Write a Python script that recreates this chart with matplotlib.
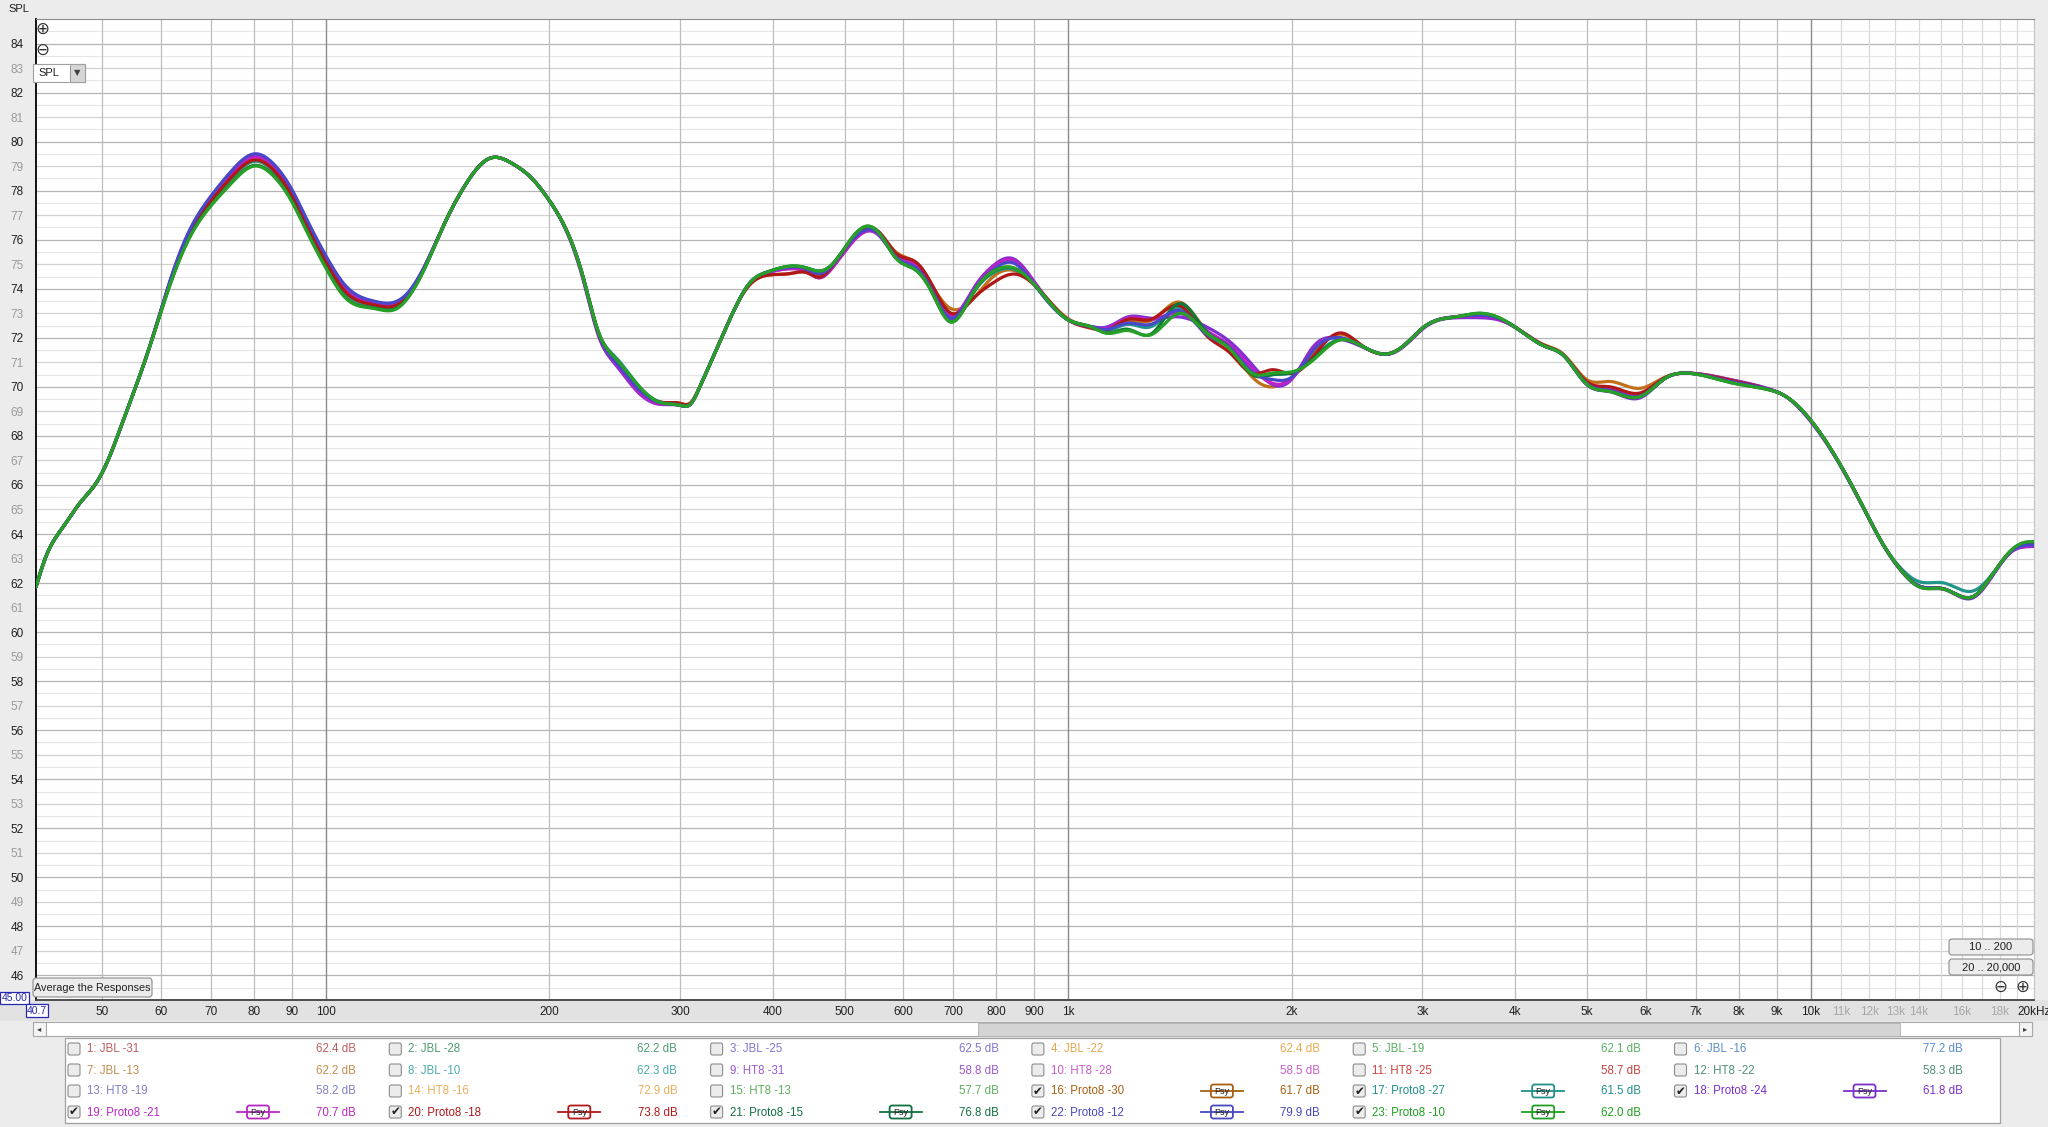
import numpy as np
import matplotlib
matplotlib.use("Agg")
import matplotlib.pyplot as plt
from matplotlib.patches import Rectangle, FancyBboxPatch

plt.rcParams['font.family'] = ['Liberation Sans', 'DejaVu Sans']

# ---------------- data ----------------
freq = [40.7, 42.0, 44.3, 46.6, 49.1, 51.2, 53.3, 55.6, 57.7, 61.3,
        65.2, 70.1, 74.6, 80, 85.3, 90, 94.2, 100, 106.5, 116,
        124.8, 129.5, 136, 144.7, 153.9, 166.6, 178, 189.5, 200, 211.6,
        222, 233.5, 245, 265, 280, 300, 310, 319, 339, 357,
        372, 393, 422, 444, 463, 483, 503, 535, 557, 586,
        624, 656, 694, 745, 793, 844, 897, 1000, 1071, 1130,
        1202, 1292, 1415, 1535, 1650, 1770, 1883, 2012, 2140, 2328,
        2470, 2720, 2870, 3020, 3355, 3580, 3830, 4060, 4390, 4640,
        5000, 5375, 5890, 6370, 6830, 7790, 8790, 9190, 10000, 10940,
        11830, 12500, 13240, 14000, 15140, 16560, 17500, 18700, 19550, 20170]

p30 = [61.85, 63.1, 64.3, 65.25, 66.1, 67.2, 68.6, 70.1, 71.5, 73.99,
       76.07, 77.56, 78.5, 79.2, 78.75, 77.75, 76.55, 75.05, 73.8, 73.32,
       73.32, 73.78, 74.89, 76.7, 78.2, 79.33, 79.12, 78.5, 77.6, 76.3,
       74.5, 72.1, 71.1, 69.92, 69.4, 69.33, 69.35, 70.0, 71.8, 73.3,
       74.15, 74.55, 74.62, 74.68, 74.58, 75.05, 75.75, 76.45, 76.25, 75.5,
       75.05, 74.12, 73.2, 73.6, 74.5, 74.75, 74.23, 72.78, 72.46, 72.38,
       72.7, 72.7, 73.45, 72.3, 71.55, 70.4, 70.0, 70.45, 71.35, 72.15,
       71.75, 71.37, 71.84, 72.46, 72.87, 72.95, 72.75, 72.3, 71.7, 71.35,
       70.29, 70.22, 69.94, 70.4, 70.56, 70.3, 69.9, 69.67, 68.65, 66.88,
       64.98, 63.62, 62.53, 61.88, 61.76, 61.45, 62.26, 63.35, 63.6, 63.6]

p27 = [61.85, 63.1, 64.3, 65.25, 66.1, 67.2, 68.6, 70.1, 71.5, 73.99,
       76.07, 77.56, 78.5, 79.2, 78.75, 77.75, 76.55, 75.05, 73.8, 73.32,
       73.32, 73.78, 74.89, 76.7, 78.2, 79.33, 79.12, 78.5, 77.6, 76.3,
       74.5, 72.15, 71.25, 69.98, 69.42, 69.25, 69.3, 70.0, 71.8, 73.3,
       74.22, 74.68, 74.92, 74.85, 74.72, 75.05, 75.75, 76.5, 76.25, 75.28,
       74.8, 73.88, 72.72, 73.82, 74.65, 74.8, 74.23, 72.73, 72.46, 72.3,
       72.55, 72.45, 73.2, 72.2, 71.6, 70.6, 70.5, 70.6, 71.2, 71.95,
       71.71, 71.37, 71.84, 72.46, 72.87, 72.98, 72.75, 72.3, 71.65, 71.3,
       70.1, 69.82, 69.6, 70.35, 70.56, 70.22, 69.9, 69.67, 68.65, 66.88,
       64.98, 63.62, 62.6, 62.06, 62.0, 61.68, 62.3, 63.35, 63.65, 63.65]

p24 = [61.85, 63.1, 64.3, 65.25, 66.1, 67.2, 68.6, 70.1, 71.5, 74.06,
       76.22, 77.76, 78.75, 79.45, 79.0, 78.0, 76.8, 75.3, 74.05, 73.47,
       73.47, 73.88, 74.94, 76.7, 78.2, 79.33, 79.12, 78.5, 77.6, 76.25,
       74.4, 72.0, 70.95, 69.7, 69.3, 69.25, 69.3, 70.0, 71.8, 73.3,
       74.2, 74.65, 74.82, 74.7, 74.45, 74.92, 75.62, 76.35, 76.15, 75.3,
       74.85, 73.95, 72.88, 74.0, 74.95, 75.22, 74.35, 72.73, 72.46, 72.45,
       72.85, 72.8, 72.85, 72.45, 71.85, 70.9, 70.1, 70.4, 71.65, 71.95,
       71.68, 71.35, 71.8, 72.42, 72.82, 72.82, 72.7, 72.3, 71.65, 71.3,
       70.08, 69.8, 69.55, 70.35, 70.56, 70.3, 69.92, 69.67, 68.6, 66.85,
       64.95, 63.6, 62.5, 61.85, 61.74, 61.4, 62.2, 63.3, 63.48, 63.5]

p21 = [61.85, 63.1, 64.3, 65.25, 66.1, 67.2, 68.6, 70.1, 71.5, 74.04,
       76.17, 77.7, 78.67, 79.37, 78.92, 77.92, 76.72, 75.22, 73.97, 73.42,
       73.42, 73.85, 74.92, 76.7, 78.2, 79.33, 79.12, 78.5, 77.6, 76.28,
       74.45, 72.05, 71.0, 69.75, 69.32, 69.25, 69.3, 70.0, 71.8, 73.3,
       74.2, 74.65, 74.82, 74.7, 74.45, 74.92, 75.62, 76.35, 76.2, 75.35,
       74.95, 74.0, 72.92, 73.95, 74.9, 75.15, 74.3, 72.73, 72.46, 72.4,
       72.8, 72.75, 73.0, 72.3, 71.7, 70.75, 70.15, 70.42, 71.55, 72.0,
       71.7, 71.36, 71.82, 72.44, 72.85, 72.88, 72.72, 72.3, 71.65, 71.3,
       70.15, 69.9, 69.65, 70.35, 70.56, 70.28, 69.9, 69.67, 68.62, 66.86,
       64.96, 63.6, 62.52, 61.88, 61.76, 61.45, 62.22, 63.32, 63.5, 63.52]

p18 = [61.85, 63.1, 64.3, 65.25, 66.1, 67.2, 68.6, 70.1, 71.5, 74.0,
       76.1, 77.6, 78.55, 79.25, 78.8, 77.8, 76.6, 75.1, 73.85, 73.35,
       73.35, 73.8, 74.9, 76.7, 78.2, 79.33, 79.12, 78.5, 77.6, 76.3,
       74.5, 72.1, 71.1, 69.9, 69.4, 69.33, 69.35, 70.0, 71.8, 73.3,
       74.15, 74.55, 74.62, 74.66, 74.48, 75.0, 75.72, 76.45, 76.3, 75.45,
       75.08, 74.15, 73.02, 73.6, 74.25, 74.6, 74.2, 72.73, 72.4, 72.33,
       72.75, 72.75, 73.3, 72.1, 71.4, 70.55, 70.7, 70.55, 71.25, 72.2,
       71.75, 71.38, 71.84, 72.46, 72.87, 72.95, 72.75, 72.32, 71.68, 71.32,
       70.2, 70.0, 69.75, 70.38, 70.56, 70.27, 69.9, 69.67, 68.65, 66.88,
       64.98, 63.62, 62.53, 61.88, 61.76, 61.45, 62.26, 63.35, 63.6, 63.6]

p15 = [61.85, 63.1, 64.3, 65.25, 66.1, 67.2, 68.6, 70.1, 71.5, 73.93,
       75.97, 77.42, 78.33, 79.03, 78.58, 77.58, 76.38, 74.88, 73.63, 73.22,
       73.22, 73.71, 74.86, 76.7, 78.2, 79.33, 79.12, 78.5, 77.6, 76.3,
       74.5, 72.15, 71.2, 69.95, 69.4, 69.25, 69.3, 70.0, 71.8, 73.3,
       74.22, 74.68, 74.92, 74.85, 74.72, 75.05, 75.78, 76.55, 76.25, 75.25,
       74.75, 73.83, 72.65, 73.85, 74.7, 74.85, 74.23, 72.73, 72.46, 72.2,
       72.35, 72.15, 73.4, 72.25, 71.6, 70.5, 70.5, 70.6, 71.15, 71.92,
       71.71, 71.37, 71.84, 72.46, 72.87, 73.0, 72.78, 72.3, 71.65, 71.3,
       70.1, 69.82, 69.6, 70.35, 70.56, 70.18, 69.88, 69.67, 68.65, 66.88,
       64.98, 63.62, 62.53, 61.88, 61.76, 61.45, 62.26, 63.38, 63.66, 63.66]

p12 = [61.85, 63.1, 64.3, 65.25, 66.1, 67.2, 68.6, 70.1, 71.5, 74.08,
       76.25, 77.8, 78.8, 79.5, 79.05, 78.05, 76.85, 75.35, 74.1, 73.5,
       73.5, 73.9, 74.95, 76.7, 78.2, 79.33, 79.12, 78.5, 77.6, 76.3,
       74.5, 72.1, 71.05, 69.85, 69.38, 69.25, 69.3, 70.0, 71.8, 73.3,
       74.22, 74.68, 74.88, 74.8, 74.62, 75.02, 75.72, 76.4, 76.22, 75.3,
       74.85, 73.92, 72.8, 73.9, 74.78, 75.05, 74.23, 72.73, 72.46, 72.35,
       72.6, 72.55, 73.1, 72.15, 71.6, 70.6, 70.3, 70.45, 71.5, 72.0,
       71.71, 71.37, 71.84, 72.46, 72.87, 72.92, 72.75, 72.3, 71.65, 71.3,
       70.12, 69.85, 69.62, 70.35, 70.56, 70.22, 69.9, 69.67, 68.63, 66.87,
       64.97, 63.62, 62.53, 61.88, 61.76, 61.45, 62.24, 63.33, 63.55, 63.55]

p10 = [61.85, 63.1, 64.3, 65.25, 66.1, 67.2, 68.6, 70.1, 71.5, 73.93,
       75.95, 77.4, 78.3, 79.0, 78.55, 77.55, 76.35, 74.85, 73.6, 73.2,
       73.2, 73.7, 74.85, 76.7, 78.2, 79.33, 79.12, 78.5, 77.6, 76.3,
       74.5, 72.15, 71.2, 69.98, 69.4, 69.25, 69.3, 70.0, 71.8, 73.3,
       74.22, 74.68, 74.92, 74.85, 74.72, 75.05, 75.78, 76.55, 76.25, 75.25,
       74.75, 73.83, 72.65, 73.85, 74.72, 74.85, 74.23, 72.73, 72.46, 72.18,
       72.3, 72.12, 73.0, 72.2, 71.55, 70.55, 70.56, 70.63, 71.1, 71.92,
       71.71, 71.37, 71.84, 72.46, 72.87, 73.0, 72.78, 72.3, 71.65, 71.3,
       70.1, 69.81, 69.6, 70.35, 70.56, 70.18, 69.88, 69.67, 68.65, 66.88,
       64.98, 63.62, 62.53, 61.85, 61.75, 61.45, 62.26, 63.38, 63.68, 63.68]

series_data = [p30, p27, p24, p21, p18, p15, p12, p10]
series_colors = ['#c07018', '#20968a', '#8030d0', '#c020c8',
                 '#b01818', '#107838', '#4848c8', '#28a028']

xtick_vals = [50, 60, 70, 80, 90, 100, 200, 300, 400, 500, 600, 700, 800, 900,
              1000, 2000, 3000, 4000, 5000, 6000, 7000, 8000, 9000, 10000,
              11000, 12000, 13000, 14000, 16000, 18000, 20000]
xtick_labels = ['50', '60', '70', '80', '90', '100', '200', '300', '400', '500',
                '600', '700', '800', '900', '1k', '2k', '3k', '4k', '5k', '6k',
                '7k', '8k', '9k', '10k', '11k', '12k', '13k', '14k', '16k',
                '18k', '20kHz']

legend_labels = ['1: JBL -31', '2: JBL -28', '3: JBL -25', '4: JBL -22', '5: JBL -19', '6: JBL -16',
                 '7: JBL -13', '8: JBL -10', '9: HT8 -31', '10: HT8 -28', '11: HT8 -25', '12: HT8 -22',
                 '13: HT8 -19', '14: HT8 -16', '15: HT8 -13', '16: Proto8 -30', '17: Proto8 -27',
                 '18: Proto8 -24', '19: Proto8 -21', '20: Proto8 -18', '21: Proto8 -15',
                 '22: Proto8 -12', '23: Proto8 -10']
legend_values = ['62.4 dB', '62.2 dB', '62.5 dB', '62.4 dB', '62.1 dB', '77.2 dB',
                 '62.2 dB', '62.3 dB', '58.8 dB', '58.5 dB', '58.7 dB', '58.3 dB',
                 '58.2 dB', '72.9 dB', '57.7 dB', '61.7 dB', '61.5 dB', '61.8 dB',
                 '70.7 dB', '73.8 dB', '76.8 dB', '79.9 dB', '62.0 dB']
legend_colors = ['#b04040', '#2e8b57', '#6a5acd', '#e09a30', '#3aa04a', '#3a7ac0',
                 '#b87830', '#2a9a9a', '#8a3ac8', '#c040c0', '#c02020', '#307a60',
                 '#6a6ab8', '#e8a040', '#40a040', '#a86010', '#20908a', '#7a30c8',
                 '#b828c0', '#b01818', '#107040', '#4848c0', '#20a020']
legend_checked = [False] * 15 + [True] * 8


# ---------------- helpers ----------------
def nat_spline(x, y, xs):
    x = np.asarray(x, float)
    y = np.asarray(y, float)
    n = len(x)
    h = np.diff(x)
    A = np.zeros((n, n))
    r = np.zeros(n)
    A[0, 0] = A[-1, -1] = 1.0
    for i in range(1, n - 1):
        A[i, i - 1] = h[i - 1]
        A[i, i] = 2 * (h[i - 1] + h[i])
        A[i, i + 1] = h[i]
        r[i] = 3 * ((y[i + 1] - y[i]) / h[i] - (y[i] - y[i - 1]) / h[i - 1])
    c = np.linalg.solve(A, r)
    b = (y[1:] - y[:-1]) / h - h * (2 * c[:-1] + c[1:]) / 3
    d = (c[1:] - c[:-1]) / (3 * h)
    k = np.clip(np.searchsorted(x, xs) - 1, 0, n - 2)
    dx = xs - x[k]
    return y[k] + b[k] * dx + c[k] * dx ** 2 + d[k] * dx ** 3


W, H = 2048, 1127
fig = plt.figure(figsize=(W / 100, H / 100), dpi=100)
fig.patch.set_facecolor('#ececec')

# ---------------- main plot ----------------
L, R, T, B = 36, 2034, 19, 1000
ax = fig.add_axes([L / W, (H - B) / H, (R - L) / W, (B - T) / H], zorder=2)
ax.set_facecolor('white')
ax.set_xscale('log')
ax.set_xlim(40.7, 20000)
ax.set_ylim(45, 85)

# horizontal grid
for v in np.arange(45.5, 85, 0.5):
    if abs(v - round(v)) > 0.01:
        col, lw = '#e6e6e6', 0.8
    elif int(round(v)) % 2 == 0:
        col, lw = '#b4b4b4', 0.9
    else:
        col, lw = '#d2d2d2', 0.9
    ax.axhline(v, color=col, lw=lw, zorder=0)
# vertical grid
for f in list(range(50, 100, 10)) + list(range(200, 1000, 100)) + list(range(2000, 10000, 1000)):
    ax.axvline(f, color='#bdbdbd', lw=0.9, zorder=0)
for f in range(11000, 20001, 1000):
    ax.axvline(f, color='#dadada', lw=0.9, zorder=0)
for f in [100, 1000, 10000]:
    ax.axvline(f, color='#8a8a8a', lw=1.0, zorder=0)

lf = np.log10(freq)
xs = np.linspace(lf[0], lf[-1], 3000)
for vals, colr in zip(series_data, series_colors):
    ys = nat_spline(lf, vals, xs)
    ax.plot(10 ** xs, ys, color=colr, lw=2.3, solid_capstyle='round', zorder=3)

ax.set_xticks(xtick_vals)
ax.set_xticklabels(xtick_labels)
ax.xaxis.set_minor_locator(matplotlib.ticker.NullLocator())
ax.set_yticks(list(range(46, 85)))
ax.set_yticklabels([str(v) for v in range(46, 85)])
ax.tick_params(axis='x', length=0, pad=4, labelsize=8.5, colors='#202020')
ax.tick_params(axis='y', length=0, pad=9, labelsize=8.5)
for lab, val in zip(ax.get_yticklabels(), range(46, 85)):
    lab.set_color('#202020' if val % 2 == 0 else '#9a9a9a')
for lab, txt in zip(ax.get_xticklabels(), xtick_labels):
    if txt in ('11k', '12k', '13k', '14k', '16k', '18k'):
        lab.set_color('#a8a8a8')
ax.spines['left'].set_color('#000000')
ax.spines['left'].set_linewidth(1.3)
ax.spines['bottom'].set_color('#404040')
ax.spines['bottom'].set_linewidth(1.3)
ax.spines['top'].set_color('#8c8c8c')
ax.spines['right'].set_color('#c4c4c4')

# ---------------- UI overlay (pixel coords) ----------------
bg = fig.add_axes([0, 0, 1, 1], zorder=1)
bg.set_xlim(0, W)
bg.set_ylim(H, 0)
bg.axis('off')
bg.add_patch(Rectangle((0, 1000), W, 21, facecolor='#e2e2e2', edgecolor='none'))

ov = fig.add_axes([0, 0, 1, 1], zorder=5)
ov.set_xlim(0, W)
ov.set_ylim(H, 0)
ov.axis('off')
ov.patch.set_alpha(0)

ov.text(8, 9, 'SPL', fontsize=8, color='#202020', va='center', ha='left')


def circ_icon(x, y, sym):
    ov.text(x, y, sym, fontsize=12, ha='center', va='center', color='#303030',
            family='DejaVu Sans')


circ_icon(42, 29, '\u2295')
circ_icon(42, 50, '\u2296')
circ_icon(2000, 987, '\u2296')
circ_icon(2022, 987, '\u2295')

# SPL dropdown
ov.add_patch(Rectangle((33, 64), 52, 18, facecolor='white', edgecolor='#a0a0a0', lw=0.8))
ov.add_patch(Rectangle((70, 64), 15, 18, facecolor='#d6d6d6', edgecolor='#a0a0a0', lw=0.8))
ov.text(38, 73, 'SPL', fontsize=8, va='center', ha='left', color='#202020')
ov.text(77.5, 73, '\u25bc', fontsize=6, va='center', ha='center', color='#404040',
        family='DejaVu Sans')


def button(x0, y0, x1, y1, txt, fs=8):
    ov.add_patch(FancyBboxPatch((x0, y0), x1 - x0, y1 - y0,
                                boxstyle='round,pad=0,rounding_size=3',
                                facecolor='#ececec', edgecolor='#8c8c8c', lw=0.8))
    ov.text((x0 + x1) / 2, (y0 + y1) / 2 + 0.5, txt, fontsize=fs, ha='center', va='center',
            color='#202020')


button(33, 978, 152, 997, 'Average the Responses', 7.8)
button(1949, 939, 2033, 955, '10 .. 200', 8)
button(1949, 959, 2033, 975, '20 .. 20,000', 8)

# value boxes at lower-left
ov.add_patch(Rectangle((0, 992), 29, 12, facecolor='white', edgecolor='#2828b0', lw=0.9))
ov.text(14.5, 998, '45.00', fontsize=7.5, ha='center', va='center', color='#2828b0')
ov.add_patch(Rectangle((26, 1004), 22, 13, facecolor='white', edgecolor='#2828b0', lw=0.9))
ov.text(37, 1010.5, '40.7', fontsize=7.5, ha='center', va='center', color='#2828b0')

# scrollbar
ov.add_patch(Rectangle((33, 1022), 1999, 14, facecolor='white', edgecolor='#a8a8a8', lw=0.8))
ov.add_patch(Rectangle((978, 1022.5), 922, 13, facecolor='#d4d4d4', edgecolor='#b0b0b0', lw=0.6))
ov.add_patch(Rectangle((33, 1022), 13, 14, facecolor='#f4f4f4', edgecolor='#a8a8a8', lw=0.8))
ov.add_patch(Rectangle((2019, 1022), 13, 14, facecolor='#f4f4f4', edgecolor='#a8a8a8', lw=0.8))
ov.text(39.5, 1029, '\u25c2', fontsize=6, ha='center', va='center', color='#404040', family='DejaVu Sans')
ov.text(2025.5, 1029, '\u25b8', fontsize=6, ha='center', va='center', color='#404040', family='DejaVu Sans')

# legend panel
ov.add_patch(Rectangle((65, 1038), 1935, 85, facecolor='white', edgecolor='#a0a0a0', lw=0.9))
row_y = [1049, 1070, 1091, 1112]
col_w = 321.3
for i, (lab, val, colr, chk) in enumerate(zip(legend_labels, legend_values,
                                               legend_colors, legend_checked)):
    r, c = divmod(i, 6)
    y = row_y[r]
    x0 = 68 + col_w * c
    ov.add_patch(FancyBboxPatch((x0, y - 6), 12, 12, boxstyle='round,pad=0,rounding_size=2',
                                facecolor='#ececec', edgecolor='#8c8c8c', lw=0.8))
    if chk:
        ov.text(x0 + 6, y, '\u2714', fontsize=8.5, ha='center', va='center', color='#202020',
                family='DejaVu Sans')
    alpha = 1.0 if chk else 0.85
    ov.text(x0 + 19, y + 0.5, lab, fontsize=8.3, ha='left', va='center', color=colr, alpha=alpha)
    ov.text(x0 + 288, y + 0.5, val, fontsize=8.3, ha='right', va='center', color=colr, alpha=alpha)
    if chk:
        cx = x0 + 190
        ov.plot([cx - 21, cx + 21], [y, y], color=colr, lw=1.3)
        ov.add_patch(FancyBboxPatch((cx - 11, y - 6.5), 22, 13,
                                    boxstyle='round,pad=0,rounding_size=2.5',
                                    facecolor='white', edgecolor=colr, lw=1.3))
        ov.text(cx, y + 0.5, 'Psy', fontsize=6.5, ha='center', va='center', color='#202020')

fig.savefig('out.png', dpi=100, facecolor=fig.get_facecolor())
